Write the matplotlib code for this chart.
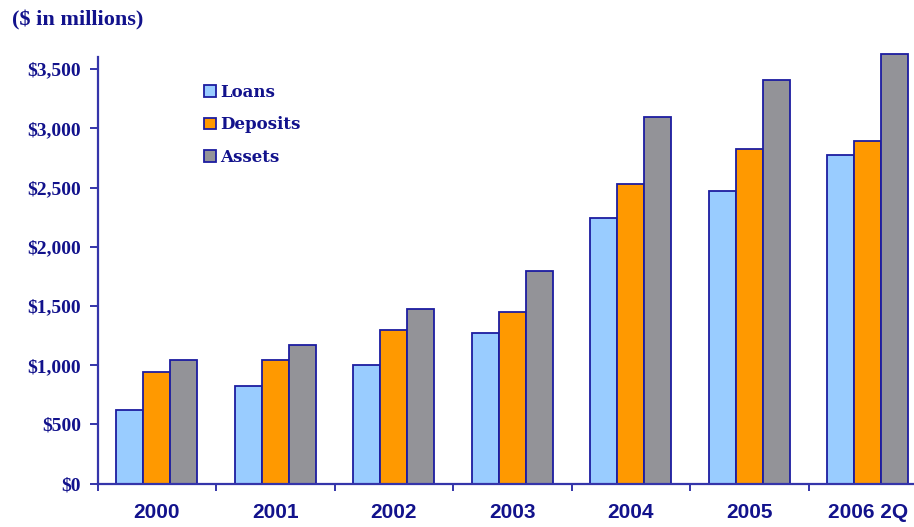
import matplotlib
matplotlib.use("Agg")
import matplotlib.pyplot as plt
import numpy as np
from matplotlib.patches import Patch

categories = ["2000", "2001", "2002", "2003", "2004", "2005", "2006 2Q"]
loans = [622, 825, 1000, 1273, 2241, 2475, 2774]
deposits = [943, 1041, 1296, 1448, 2531, 2827, 2897]
assets = [1041, 1168, 1473, 1799, 3097, 3410, 3627]
series_names = ["Loans", "Deposits", "Assets"]
y_ticks = [0, 500, 1000, 1500, 2000, 2500, 3000, 3500]
y_tick_labels = ["$0", "$500", "$1,000", "$1,500", "$2,000", "$2,500", "$3,000", "$3,500"]

colors = ["#99CCFF", "#FF9900", "#939398"]
edge = "#1C1CA0"
txt = "#12128C"
axis_col = "#3535AA"

W, H = 914, 527
fig = plt.figure(figsize=(W / 100, H / 100), dpi=100)
left, right, bottom, top = 97.5, 927, 483.7, 56.7
ax = fig.add_axes([left / W, (H - bottom) / H, (right - left) / W, (bottom - top) / H])

x = np.arange(len(categories))
bw = 0.228
for i, (vals, c) in enumerate(zip([loans, deposits, assets], colors)):
    ax.bar(x + (i - 1) * bw, vals, bw, color=c, edgecolor=edge, linewidth=1.3,
           clip_on=False, zorder=3)

ax.set_xlim(-0.5, len(categories) - 0.5)
ax.set_ylim(0, 3605)

for s in ["top", "right"]:
    ax.spines[s].set_visible(False)
for s in ["left", "bottom"]:
    ax.spines[s].set_color(axis_col)
    ax.spines[s].set_linewidth(1.6)
    ax.spines[s].set_zorder(4)

ax.set_yticks(y_ticks)
ax.set_yticklabels(y_tick_labels, family="Liberation Serif", fontweight="bold",
                   fontsize=14, color=txt)
ax.tick_params(axis="y", direction="out", length=6, width=1.4, color=axis_col, pad=6)

ax.set_xticks(np.arange(len(categories) + 1) - 0.5)
ax.set_xticklabels([])
ax.tick_params(axis="x", which="major", direction="out", length=5, width=1.4, color=axis_col)
ax.set_xticks(x, minor=True)
ax.set_xticklabels(categories, minor=True, family="Liberation Sans", fontweight="bold",
                   fontsize=15, color=txt)
ax.tick_params(axis="x", which="minor", length=0, pad=14)

fig.text(12 / W, 1 - 20 / H, "($ in millions)", family="Liberation Serif", fontweight="bold",
         fontsize=16, color=txt, va="center", ha="left")

handles = [Patch(facecolor=c, edgecolor=edge, linewidth=1.3) for c in colors]
leg = ax.legend(handles, series_names, loc="upper left",
                bbox_to_anchor=(204 / W, 1 - 84 / H), bbox_transform=fig.transFigure,
                frameon=False, handlelength=0.7, handleheight=0.7, handletextpad=0.25,
                labelspacing=0.92, borderpad=0, borderaxespad=0,
                prop={"family": "DejaVu Serif", "weight": "bold", "size": 12})
for t in leg.get_texts():
    t.set_color(txt)

fig.savefig("out.png", dpi=100)
